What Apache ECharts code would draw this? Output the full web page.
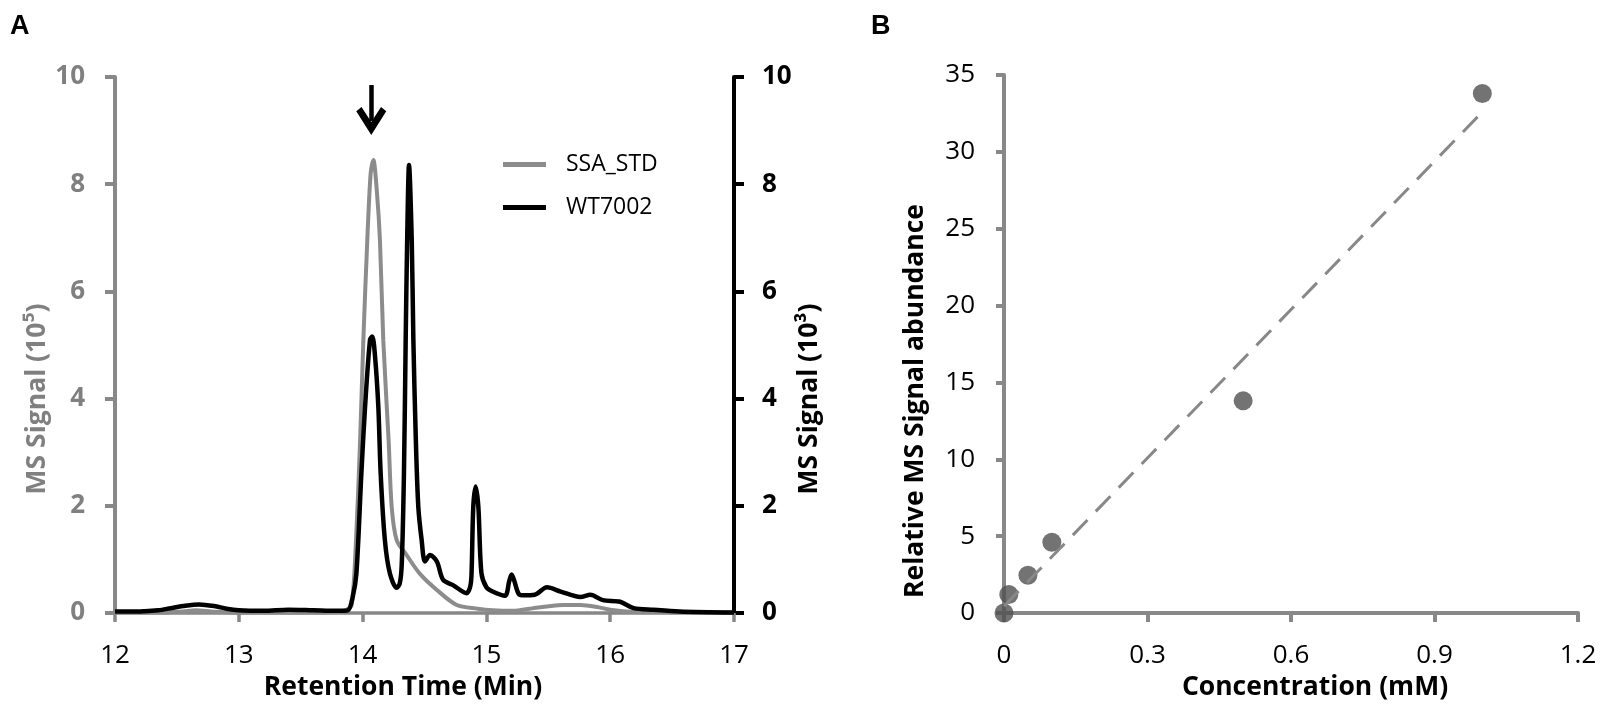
<!DOCTYPE html>
<html>
<head>
<meta charset="utf-8">
<script src="https://cdn.jsdelivr.net/npm/echarts@6.0.0/dist/echarts.min.js"></script>
<style>
    html, body { margin: 0; padding: 0; background: #fff; }
    #main { width: 1600px; height: 709px; }
</style>
</head>
<body>
<div id="main"></div>
<script type="text/javascript">
    // A: chromatogram, retention time (min) vs MS signal
    var ssaTime   = [12.00, 12.40, 12.55, 12.65, 12.78, 12.95, 13.50, 13.80, 13.87, 13.912, 13.947, 13.98, 14.006, 14.038, 14.065, 14.087, 14.114, 14.14, 14.167, 14.21, 14.235, 14.275, 14.356, 14.46, 14.60, 14.76, 14.93, 15.05, 15.22, 15.35, 15.49, 15.62, 15.76, 15.90, 16.00, 16.13, 16.40, 17.00];
    var ssaSignal = [0.01, 0.01, 0.03, 0.05, 0.03, 0.01, 0.01, 0.02, 0.06, 0.15, 1.36, 3.23, 5.09, 6.96, 8.2, 8.45, 7.9, 6.96, 5.09, 3.23, 1.98, 1.36, 1.08, 0.74, 0.43, 0.15, 0.08, 0.05, 0.04, 0.08, 0.12, 0.15, 0.15, 0.11, 0.06, 0.03, 0.02, 0.01];

    var wtTime   = [12.00, 12.20, 12.35, 12.45, 12.55, 12.68, 12.80, 12.90, 13.00, 13.20, 13.40, 13.60, 13.80, 13.88, 13.92, 13.95, 13.99, 14.02, 14.06, 14.078, 14.10, 14.127, 14.146, 14.18, 14.22, 14.275, 14.30, 14.316, 14.334, 14.348, 14.36, 14.375, 14.397, 14.41, 14.43, 14.45, 14.477, 14.504, 14.545, 14.60, 14.65, 14.73, 14.84, 14.87, 14.88, 14.894, 14.913, 14.935, 14.96, 15.00, 15.05, 15.15, 15.185, 15.204, 15.225, 15.26, 15.30, 15.39, 15.49, 15.60, 15.76, 15.84, 15.94, 16.08, 16.19, 16.35, 16.56, 17.00];
    var wtSignal = [0.03, 0.03, 0.05, 0.09, 0.13, 0.16, 0.13, 0.08, 0.05, 0.04, 0.06, 0.05, 0.04, 0.05, 0.3, 0.74, 2.6, 3.85, 5.1, 5.16, 4.8, 3.85, 2.6, 1.36, 0.74, 0.47, 0.55, 0.9, 2.6, 5.1, 6.96, 8.36, 6.96, 5.1, 3.23, 1.98, 1.36, 0.96, 1.08, 0.96, 0.62, 0.52, 0.37, 0.5, 0.74, 1.98, 2.36, 1.98, 0.74, 0.48, 0.40, 0.32, 0.6, 0.72, 0.6, 0.36, 0.33, 0.34, 0.48, 0.40, 0.30, 0.34, 0.24, 0.21, 0.09, 0.06, 0.03, 0.01];

    var rtTicks = [12, 13, 14, 15, 16, 17];
    var signalTicks = [0, 2, 4, 6, 8, 10];

    // B: calibration points and linear trend
    var concentration = [0, 0.01, 0.05, 0.1, 0.5, 1.0];
    var abundance     = [0, 1.2, 2.45, 4.6, 13.8, 33.8];
    var trendConc  = [0, 1.0];
    var trendAbund = [0.44, 32.6];

    var concTicks = [0, 0.3, 0.6, 0.9, 1.2];
    var abundTicks = [0, 5, 10, 15, 20, 25, 30, 35];

    function pairs(xs, ys) {
        return xs.map(function (x, i) { return [x, ys[i]]; });
    }

    var FONT = "'Open Sans', 'Liberation Sans', sans-serif";
    var AXIS_GRAY = '#888888';
    var LINE_GRAY = '#8c8c8c';

    var myChart = echarts.init(document.getElementById('main'));

    myChart.setOption({
        animation: false,
        title: [
            { text: 'A', left: 5, top: 8, textStyle: { fontFamily: 'Liberation Sans', fontWeight: 'bold', fontSize: 27, color: '#000' } },
            { text: 'B', left: 866, top: 8, textStyle: { fontFamily: 'Liberation Sans', fontWeight: 'bold', fontSize: 27, color: '#000' } }
        ],
        legend: {
            data: [{ name: 'SSA_STD', icon: 'rect' }, { name: 'WT7002', icon: 'rect' }],
            orient: 'vertical',
            left: 498,
            top: 148,
            itemWidth: 43,
            itemHeight: 5,
            itemGap: 20,
            textStyle: { fontFamily: FONT, fontSize: 23, color: '#000', padding: [0, 0, 0, 15] }
        },
        grid: [
            { left: 115, right: 866, top: 77, bottom: 96, outerBoundsMode: 'none' },
            { left: 1004, right: 22, top: 75, bottom: 96, outerBoundsMode: 'none' }
        ],
        xAxis: [
            {
                gridIndex: 0, type: 'value',
                min: rtTicks[0], max: rtTicks[rtTicks.length - 1], interval: 1,
                name: 'Retention Time (Min)', nameLocation: 'middle', nameGap: 60,
                nameTextStyle: { fontFamily: FONT, fontSize: 26.5, fontWeight: 'bold', color: '#000', padding: [0, 43, 0, 0] },
                axisLine: { show: true, onZero: false, lineStyle: { color: AXIS_GRAY, width: 3.5 } },
                axisTick: { show: true, length: 9, lineStyle: { color: AXIS_GRAY, width: 3.5 } },
                axisLabel: { margin: 30, fontFamily: FONT, fontSize: 26, color: '#000' },
                splitLine: { show: false }
            },
            {
                gridIndex: 1, type: 'value',
                min: concTicks[0], max: concTicks[concTicks.length - 1], interval: 0.3,
                name: 'Concentration (mM)', nameLocation: 'middle', nameGap: 60,
                nameTextStyle: { fontFamily: FONT, fontSize: 26.5, fontWeight: 'bold', color: '#000', padding: [0, 0, 0, 48] },
                axisLine: { show: true, onZero: false, lineStyle: { color: AXIS_GRAY, width: 4 } },
                axisTick: { show: true, length: 9, lineStyle: { color: AXIS_GRAY, width: 4 } },
                axisLabel: { margin: 30, fontFamily: FONT, fontSize: 26, color: '#000' },
                splitLine: { show: false }
            }
        ],
        yAxis: [
            {
                gridIndex: 0, type: 'value', position: 'left',
                min: signalTicks[0], max: signalTicks[signalTicks.length - 1], interval: 2,
                name: 'MS Signal (10\u2075)', nameLocation: 'middle', nameGap: 59,
                nameTextStyle: { fontFamily: FONT, fontSize: 26.5, fontWeight: 'bold', color: '#808080', padding: [0, 108, 0, 0] },
                axisLine: { show: true, onZero: false, lineStyle: { color: AXIS_GRAY, width: 4 } },
                axisTick: { show: true, length: 10, lineStyle: { color: AXIS_GRAY, width: 4 } },
                axisLabel: { margin: 30, fontFamily: FONT, fontSize: 26, fontWeight: 'bold', color: '#808080' },
                splitLine: { show: false }
            },
            {
                gridIndex: 0, type: 'value', position: 'right',
                min: signalTicks[0], max: signalTicks[signalTicks.length - 1], interval: 2,
                name: 'MS Signal (10\u00b3)', nameLocation: 'middle', nameGap: 58,
                nameTextStyle: { fontFamily: FONT, fontSize: 26.5, fontWeight: 'bold', color: '#000', padding: [0, 108, 0, 0] },
                axisLine: { show: true, onZero: false, lineStyle: { color: '#000', width: 4 } },
                axisTick: { show: true, length: 10, lineStyle: { color: '#000', width: 4 } },
                axisLabel: { margin: 28, fontFamily: FONT, fontSize: 26, fontWeight: 'bold', color: '#000' },
                splitLine: { show: false }
            },
            {
                gridIndex: 1, type: 'value',
                min: abundTicks[0], max: abundTicks[abundTicks.length - 1], interval: 5,
                name: 'Relative MS Signal abundance', nameLocation: 'middle', nameGap: 75,
                nameTextStyle: { fontFamily: FONT, fontSize: 26.5, fontWeight: 'bold', color: '#000', padding: [0, 114, 0, 0] },
                axisLine: { show: true, onZero: false, lineStyle: { color: AXIS_GRAY, width: 4 } },
                axisTick: { show: true, length: 8, lineStyle: { color: AXIS_GRAY, width: 4 } },
                axisLabel: { margin: 29, fontFamily: FONT, fontSize: 26, color: '#000' },
                splitLine: { show: false }
            }
        ],
        series: [
            {
                name: 'SSA_STD', type: 'line', xAxisIndex: 0, yAxisIndex: 0,
                data: pairs(ssaTime, ssaSignal),
                symbol: 'none', smooth: 0.3,
                lineStyle: { color: LINE_GRAY, width: 4 },
                itemStyle: { color: LINE_GRAY },
                markLine: {
                    silent: true, animation: false,
                    symbol: ['none', 'path://M10,0 L20,11 L16.5,13 L10,6 L3.5,13 L0,11 Z'],
                    symbolSize: [30, 28],
                    label: { show: false },
                    lineStyle: { color: '#000', width: 4.5, type: 'solid' },
                    data: [[{ coord: [14.07, 9.85] }, { coord: [14.07, 9.18] }]]
                }
            },
            {
                name: 'WT7002', type: 'line', xAxisIndex: 0, yAxisIndex: 1,
                data: pairs(wtTime, wtSignal),
                symbol: 'none', smooth: 0.3,
                lineStyle: { color: '#000', width: 4.5 },
                itemStyle: { color: '#000' }
            },
            {
                name: 'Abundance', type: 'scatter', xAxisIndex: 1, yAxisIndex: 2,
                data: pairs(concentration, abundance),
                symbolSize: 19, clip: false,
                itemStyle: { color: '#505050' }
            },
            {
                name: 'Linear fit', type: 'line', xAxisIndex: 1, yAxisIndex: 2,
                data: pairs(trendConc, trendAbund),
                symbol: 'none', z: 3,
                lineStyle: { color: AXIS_GRAY, width: 3, type: [21, 12] }
            }
        ]
    });
</script>
</body>
</html>
